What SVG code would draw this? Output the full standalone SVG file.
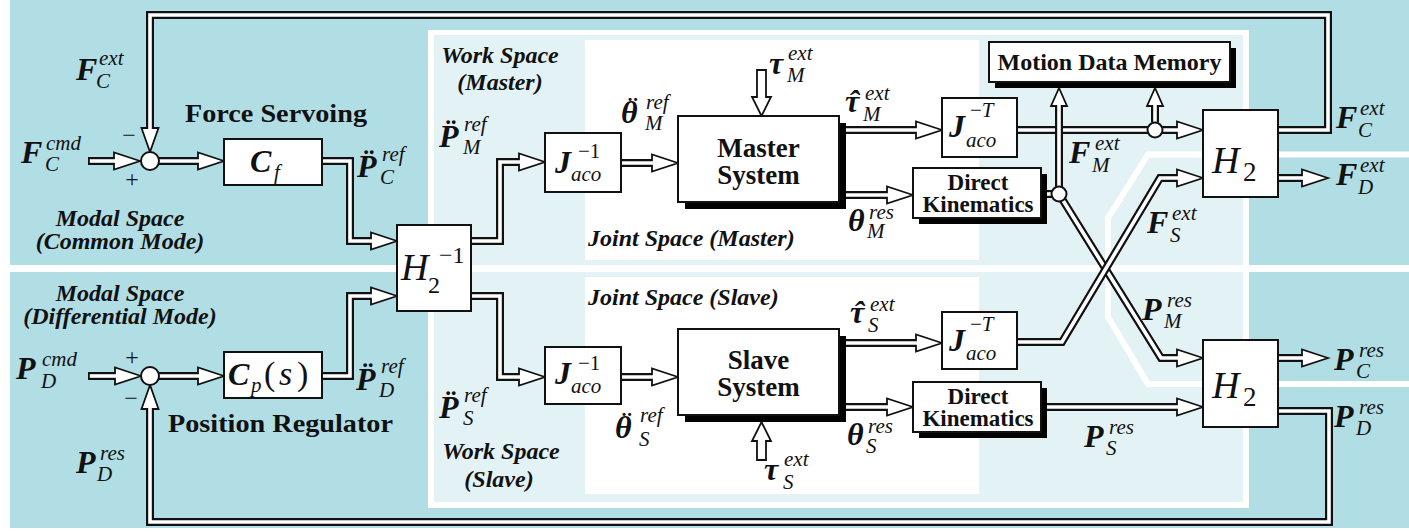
<svg xmlns="http://www.w3.org/2000/svg" width="1409" height="532" viewBox="0 0 1409 532">
<defs>
<style>
.o{fill:none;stroke:#111;stroke-width:8;stroke-linejoin:miter;stroke-miterlimit:10}
.i{fill:none;stroke:#fff;stroke-width:3.6;stroke-linejoin:miter;stroke-miterlimit:10}
.ah{fill:#fff;stroke:#111;stroke-width:1.8;stroke-linejoin:miter}
.bx{fill:#fff;stroke:#111;stroke-width:2}
.sh{fill:#000}
.jn{fill:#fff;stroke:#111;stroke-width:2}
text{font-family:"Liberation Serif","Times New Roman",serif;fill:#111}
.m{font-weight:bold;font-style:italic;font-size:32px}
.s{font-weight:normal;font-style:italic;font-size:21px}
.u{font-weight:normal;font-style:normal;font-size:21px}
.n{font-weight:normal;font-style:normal}
.ni{font-weight:normal;font-style:italic}
.h{font-style:italic;font-size:38px}
.b{font-weight:bold}
.r{font-weight:bold;font-style:italic;font-size:24px}
.c{text-anchor:middle}
</style>
</defs>
<g id="background">
<rect width="1409" height="532" fill="#fff"/>
<rect x="10" y="0" width="1399" height="528" fill="#b1dde4"/>
<rect x="428" y="30" width="821" height="478" fill="#fff"/>
<rect x="434" y="35" width="809" height="467" fill="#e3f2f4"/>
<rect x="585" y="40" width="394" height="220" fill="#fff"/>
<rect x="585" y="277" width="394" height="217" fill="#fff"/>
<rect x="10" y="265" width="1399" height="7" fill="#fff"/>
<polyline points="1409,154.5 1148,154.5 1108,218 1108,317 1148,384 1409,384" fill="none" stroke="#fff" stroke-width="6"/>
</g>
<g id="region-labels">
<text class="r c"><tspan x="120" y="226">Modal Space</tspan><tspan x="120" y="249">(Common Mode)</tspan></text>
<text class="r c"><tspan x="120" y="301">Modal Space</tspan><tspan x="120" y="324">(Differential Mode)</tspan></text>
<text class="r c"><tspan x="500" y="63">Work Space</tspan><tspan x="500" y="90">(Master)</tspan></text>
<text class="r" x="588" y="246">Joint Space (Master)</text>
<text class="r" x="588" y="305">Joint Space (Slave)</text>
<text class="r c"><tspan x="501" y="459">Work Space</tspan><tspan x="499" y="487">(Slave)</tspan></text>
<text class="b c" x="276" y="122" font-size="25" textLength="182" lengthAdjust="spacingAndGlyphs">Force Servoing</text>
<text class="b" x="168" y="432" font-size="26" textLength="225" lengthAdjust="spacingAndGlyphs">Position Regulator</text>
</g>
<g id="connectors">
<g id="c1"><path class="o" d="M88,161H114"/><polygon class="ah" points="140,161 114,152.5 114,169.5"/><path class="i" d="M89.8,161H118"/></g>
<g id="c2"><path class="o" d="M159,161H198"/><polygon class="ah" points="224,161 198,152.5 198,169.5"/><path class="i" d="M159,161H202"/></g>
<g id="c3"><path class="o" d="M1278,130H1328V15H150V128"/><polygon class="ah" points="150,152 141.5,128 158.5,128"/><path class="i" d="M1278,130H1328V15H150V132"/></g>
<g id="c4"><path class="o" d="M322,161H350V241H371"/><polygon class="ah" points="397,241 371,232.5 371,249.5"/><path class="i" d="M322,161H350V241H375"/></g>
<g id="c5"><path class="o" d="M471,241H500V162H519"/><polygon class="ah" points="545,162 519,153.5 519,170.5"/><path class="i" d="M471,241H500V162H523"/></g>
<g id="c6"><path class="o" d="M621,163H652"/><polygon class="ah" points="678,163 652,154.5 652,171.5"/><path class="i" d="M621,163H656"/></g>
<g id="c7"><path class="o" d="M846,130H916"/><polygon class="ah" points="942,130 916,121.5 916,138.5"/><path class="i" d="M846,130H920"/></g>
<g id="c8"><path class="o" d="M846,195H887"/><polygon class="ah" points="913,195 887,186.5 887,203.5"/><path class="i" d="M846,195H891"/></g>
<g id="c9"><path class="o" d="M1017,130H1177"/><polygon class="ah" points="1203,130 1177,121.5 1177,138.5"/><path class="i" d="M1017,130H1181"/></g>
<g id="c10"><path class="o" d="M1155,122V106"/><polygon class="ah" points="1155,88 1147,106 1163,106"/><path class="i" d="M1155,122V102"/></g>
<g id="c11"><path class="o" d="M1046,194H1056"/><path class="i" d="M1046,194H1056"/></g>
<g id="c12"><path class="o" d="M1059,188V106"/><polygon class="ah" points="1059,88 1051,106 1067,106"/><path class="i" d="M1059,188V102"/></g>
<g id="c13"><path class="o" d="M1059,194L1161,358H1177"/><polygon class="ah" points="1203,358 1177,349.5 1177,366.5"/><path class="i" d="M1059,194L1161,358H1181"/></g>
<g id="c14"><path class="o" d="M1017,342H1062L1160,178H1177"/><polygon class="ah" points="1203,178 1177,169.5 1177,186.5"/><path class="i" d="M1017,342H1062L1160,178H1181"/></g>
<g id="c15"><path class="o" d="M1278,178H1302"/><polygon class="ah" points="1328,178 1302,169.5 1302,186.5"/><path class="i" d="M1278,178H1306"/></g>
<g id="c16"><path class="o" d="M1278,358H1302"/><polygon class="ah" points="1328,358 1302,349.5 1302,366.5"/><path class="i" d="M1278,358H1306"/></g>
<g id="c17"><path class="o" d="M1047,407H1177"/><polygon class="ah" points="1203,407 1177,398.5 1177,415.5"/><path class="i" d="M1047,407H1181"/></g>
<g id="c18"><path class="o" d="M1278,411H1329V522H150V409"/><polygon class="ah" points="150,385 141.5,409 158.5,409"/><path class="i" d="M1278,411H1329V522H150V405"/></g>
<g id="c19"><path class="o" d="M88,376H115"/><polygon class="ah" points="141,376 115,367.5 115,384.5"/><path class="i" d="M89.8,376H119"/></g>
<g id="c20"><path class="o" d="M159,376H198"/><polygon class="ah" points="224,376 198,367.5 198,384.5"/><path class="i" d="M159,376H202"/></g>
<g id="c21"><path class="o" d="M322,376H350V296H371"/><polygon class="ah" points="397,296 371,287.5 371,304.5"/><path class="i" d="M322,376H350V296H375"/></g>
<g id="c22"><path class="o" d="M471,296H500V377H519"/><polygon class="ah" points="545,377 519,368.5 519,385.5"/><path class="i" d="M471,296H500V377H523"/></g>
<g id="c23"><path class="o" d="M621,377H652"/><polygon class="ah" points="678,377 652,368.5 652,385.5"/><path class="i" d="M621,377H656"/></g>
<g id="c24"><path class="o" d="M846,343H916"/><polygon class="ah" points="942,343 916,334.5 916,351.5"/><path class="i" d="M846,343H920"/></g>
<g id="c25"><path class="o" d="M846,407H887"/><polygon class="ah" points="913,407 887,398.5 887,415.5"/><path class="i" d="M846,407H891"/></g>
<g id="tauM-in"><polygon class="ah" points="757,70 766,70 766,97 771,97 761.5,116 752,97 757,97"/></g>
<g id="tauS-in"><polygon class="ah" points="757,460 766,460 766,441 771,441 761.5,422 752,441 757,441"/></g>
</g>
<g id="sum-common">
<circle class="jn" cx="150" cy="161" r="9"/>
<text class="c" x="129" y="143" font-size="24">−</text>
<text class="c" x="132" y="187" font-size="24">+</text>
</g>
<g id="sum-diff">
<circle class="jn" cx="150" cy="376" r="9"/>
<text class="c" x="132" y="365" font-size="24">+</text>
<text class="c" x="131" y="406" font-size="24">−</text>
</g>
<g id="Cf"><rect class="bx" x="224" y="139" width="98" height="46"/><text class="m" x="250" y="172">C<tspan class="s" x="274" y="179">f</tspan></text></g>
<g id="Cp"><rect class="bx" x="224" y="352" width="98" height="46"/><text class="m" x="228" y="385">C<tspan class="s" x="251" y="392">p</tspan><tspan class="n" x="264" y="385" font-size="34">(</tspan><tspan class="ni" x="279" y="385" font-size="34">s</tspan><tspan class="n" x="297" y="385" font-size="34">)</tspan></text></g>
<g id="H2inv"><rect class="bx" x="397" y="225" width="74" height="86"/><text class="h" x="401" y="280" font-size="36">H<tspan class="n" x="428" y="293" font-size="24">2</tspan><tspan class="n" x="439" y="263" font-size="24">−1</tspan></text></g>
<g id="Jinv-M"><rect class="bx" x="545" y="133" width="76" height="59"/><text class="m" x="555" y="173">J<tspan class="u" x="578" y="158">−1</tspan><tspan class="s" x="571" y="181">aco</tspan></text></g>
<g id="Jinv-S"><rect class="bx" x="545" y="347" width="76" height="57"/><text class="m" x="555" y="384">J<tspan class="u" x="578" y="370">−1</tspan><tspan class="s" x="571" y="393">aco</tspan></text></g>
<g id="master"><rect class="sh" x="685" y="123" width="161" height="86"/><rect class="bx" x="678" y="116" width="161" height="86"/><text class="b c" font-size="27"><tspan x="758.5" y="157">Master</tspan><tspan x="758.5" y="184">System</tspan></text></g>
<g id="slave"><rect class="sh" x="685" y="336" width="161" height="86"/><rect class="bx" x="678" y="329" width="161" height="86"/><text class="b c" font-size="27"><tspan x="758.5" y="369">Slave</tspan><tspan x="758.5" y="396">System</tspan></text></g>
<g id="JT-M"><rect class="bx" x="942" y="98" width="75" height="59"/><text class="m" x="949" y="137">J<tspan class="u" x="970" y="117">−<tspan class="ni">T</tspan></tspan><tspan class="s" x="966" y="147">aco</tspan></text></g>
<g id="JT-S"><rect class="bx" x="942" y="312" width="75" height="57"/><text class="m" x="949" y="351">J<tspan class="u" x="970" y="331">−<tspan class="ni">T</tspan></tspan><tspan class="s" x="966" y="360">aco</tspan></text></g>
<g id="DK-M"><rect class="sh" x="919" y="174" width="128" height="50"/><rect class="bx" x="913" y="168" width="128" height="50"/><text class="b c" font-size="23"><tspan x="978" y="190">Direct</tspan><tspan x="978" y="212">Kinematics</tspan></text></g>
<g id="DK-S"><rect class="sh" x="919" y="388" width="128" height="50"/><rect class="bx" x="913" y="382" width="128" height="50"/><text class="b c" font-size="23"><tspan x="978" y="404">Direct</tspan><tspan x="978" y="426">Kinematics</tspan></text></g>
<g id="MDM"><rect class="sh" x="995" y="48" width="241" height="40"/><rect class="bx" x="989" y="42" width="241" height="40"/><text class="b c" x="1109.5" y="70" font-size="24">Motion Data Memory</text></g>
<g id="H2-upper"><rect class="bx" x="1203" y="110" width="75" height="87"/><text class="h" x="1212" y="173" font-size="40">H<tspan class="n" x="1243" y="181" font-size="27">2</tspan></text></g>
<g id="H2-lower"><rect class="bx" x="1203" y="340" width="75" height="87"/><text class="h" x="1212" y="398" font-size="40">H<tspan class="n" x="1243" y="406" font-size="27">2</tspan></text></g>
<g id="branch-F"><circle class="jn" cx="1155" cy="130" r="7.5"/></g>
<g id="branch-P"><circle class="jn" cx="1059" cy="194" r="7.5"/></g>
<g id="signal-labels">
<text class="m" x="76" y="80">F<tspan class="s" x="99" y="65">ext</tspan><tspan class="s" x="96" y="88">C</tspan></text>
<text class="m" x="21" y="163">F<tspan class="s" x="46" y="150">cmd</tspan><tspan class="s" x="45" y="171">C</tspan></text>
<text class="m" x="357" y="177">P&#x308;<tspan class="s" x="382" y="161">ref</tspan><tspan class="s" x="380" y="184">C</tspan></text>
<text class="m" x="356" y="390">P&#x308;<tspan class="s" x="381" y="373">ref</tspan><tspan class="s" x="379" y="397">D</tspan></text>
<text class="m" x="16" y="379">P<tspan class="s" x="42" y="366">cmd</tspan><tspan class="s" x="41" y="388">D</tspan></text>
<text class="m" x="76" y="473">P<tspan class="s" x="100" y="460">res</tspan><tspan class="s" x="97" y="481">D</tspan></text>
<text class="m" x="439" y="147">P&#x308;<tspan class="s" x="464" y="131">ref</tspan><tspan class="s" x="463" y="154">M</tspan></text>
<text class="m" x="621" y="123">θ<tspan class="n" dx="-10" dy="-5">¨</tspan><tspan class="s" x="646" y="109">ref</tspan><tspan class="s" x="645" y="130">M</tspan></text>
<text class="m" x="769" y="74">τ<tspan class="s" x="788" y="60">ext</tspan><tspan class="s" x="787" y="82">M</tspan></text>
<text class="m" x="845" y="112">τ<tspan dx="-11">ˆ</tspan><tspan class="s" x="865" y="100">ext</tspan><tspan class="s" x="863" y="121">M</tspan></text>
<text class="m" x="848" y="231">θ<tspan class="s" x="869" y="219">res</tspan><tspan class="s" x="867" y="238">M</tspan></text>
<text class="m" x="1069" y="163">F<tspan class="s" x="1095" y="150">ext</tspan><tspan class="s" x="1092" y="172">M</tspan></text>
<text class="m" x="1147" y="233">F<tspan class="s" x="1172" y="220">ext</tspan><tspan class="s" x="1170" y="242">S</tspan></text>
<text class="m" x="1336" y="128">F<tspan class="s" x="1360" y="115">ext</tspan><tspan class="s" x="1358" y="137">C</tspan></text>
<text class="m" x="1336" y="185">F<tspan class="s" x="1360" y="172">ext</tspan><tspan class="s" x="1358" y="194">D</tspan></text>
<text class="m" x="1334" y="370">P<tspan class="s" x="1359" y="357">res</tspan><tspan class="s" x="1356" y="378">C</tspan></text>
<text class="m" x="1334" y="427">P<tspan class="s" x="1359" y="414">res</tspan><tspan class="s" x="1356" y="435">D</tspan></text>
<text class="m" x="1142" y="320">P<tspan class="s" x="1167" y="307">res</tspan><tspan class="s" x="1164" y="328">M</tspan></text>
<text class="m" x="1084" y="447">P<tspan class="s" x="1109" y="434">res</tspan><tspan class="s" x="1106" y="455">S</tspan></text>
<text class="m" x="439" y="418">P&#x308;<tspan class="s" x="464" y="402">ref</tspan><tspan class="s" x="463" y="425">S</tspan></text>
<text class="m" x="615" y="438">θ<tspan class="n" dx="-10" dy="-5">¨</tspan><tspan class="s" x="640" y="422">ref</tspan><tspan class="s" x="639" y="446">S</tspan></text>
<text class="m" x="764" y="480">τ<tspan class="s" x="784" y="466">ext</tspan><tspan class="s" x="783" y="489">S</tspan></text>
<text class="m" x="850" y="323">τ<tspan dx="-11">ˆ</tspan><tspan class="s" x="870" y="311">ext</tspan><tspan class="s" x="868" y="332">S</tspan></text>
<text class="m" x="847" y="445">θ<tspan class="s" x="868" y="433">res</tspan><tspan class="s" x="866" y="453">S</tspan></text>
</g>
</svg>
